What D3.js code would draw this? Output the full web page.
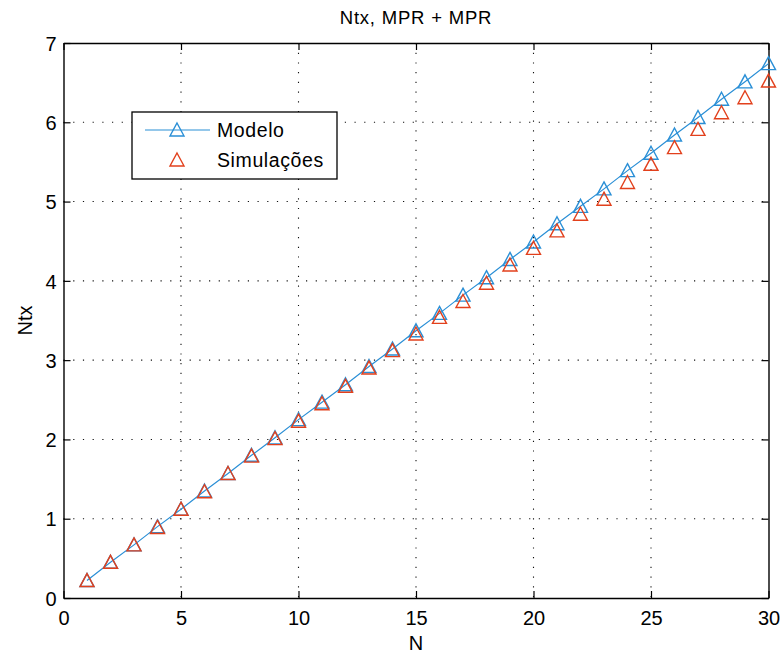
<!DOCTYPE html>
<html>
<head>
<meta charset="utf-8">
<script src="https://cdn.jsdelivr.net/npm/d3@7"></script>
<style>
  body { margin: 0; background: #fff; }
  text { font-family: "Liberation Sans", Arial, sans-serif; fill: #000; }
</style>
</head>
<body>
<div id="chart"></div>
<script>
// data
var nValues = [1,2,3,4,5,6,7,8,9,10,11,12,13,14,15,16,17,18,19,20,21,22,23,24,25,26,27,28,29,30];
var modelo = [0.22,0.45,0.67,0.90,1.12,1.35,1.57,1.80,2.02,2.25,2.47,2.69,2.92,3.14,3.37,3.59,3.82,4.04,4.27,4.49,4.72,4.94,5.16,5.39,5.61,5.84,6.06,6.29,6.51,6.74];
var simulacoes = [0.22,0.45,0.67,0.89,1.12,1.34,1.57,1.79,2.01,2.23,2.45,2.67,2.90,3.12,3.33,3.54,3.74,3.97,4.20,4.41,4.63,4.84,5.03,5.24,5.47,5.68,5.91,6.12,6.31,6.52];
var xTicks = [0,5,10,15,20,25,30];
var yTicks = [0,1,2,3,4,5,6,7];
var legendLabels = ["Modelo", "Simulações"];

var svgWidth = 784;
var svgHeight = 655;
var margin = { top: 43, right: 15.5, bottom: 57, left: 63.5 };
var chartWidth = svgWidth - margin.left - margin.right;
var chartHeight = svgHeight - margin.top - margin.bottom;

var blue = "#2a8fd6";
var red = "#e2401c";

var svg = d3.select("#chart")
  .append("svg")
  .attr("width", svgWidth)
  .attr("height", svgHeight);

var chartGroup = svg.append("g")
  .attr("transform", `translate(${margin.left}, ${margin.top})`);

var x = d3.scaleLinear().domain([0, 30]).range([0, chartWidth]);
var y = d3.scaleLinear().domain([0, 7]).range([chartHeight, 0]);

// dotted grid
var grid = chartGroup.append("g").attr("class", "grid");
grid.selectAll("line.gx")
  .data(xTicks.slice(1, -1))
  .enter()
  .append("line")
  .attr("class", "gx")
  .attr("x1", d => x(d)).attr("x2", d => x(d))
  .attr("y1", 0).attr("y2", chartHeight);
grid.selectAll("line.gy")
  .data(yTicks.slice(1, -1))
  .enter()
  .append("line")
  .attr("class", "gy")
  .attr("y1", d => y(d)).attr("y2", d => y(d))
  .attr("x1", 0).attr("x2", chartWidth);
grid.selectAll("line")
  .attr("stroke", "#111")
  .attr("stroke-width", 1.1)
  .attr("stroke-dasharray", "1.2,8.5");

// axes with inward ticks
var bottomAxis = d3.axisBottom(x).tickValues(xTicks).tickSizeInner(-7).tickSizeOuter(0).tickFormat(d3.format("d"));
var leftAxis = d3.axisLeft(y).tickValues(yTicks).tickSizeInner(-7).tickSizeOuter(0).tickFormat(d3.format("d"));
var topAxis = d3.axisTop(x).tickValues(xTicks).tickSizeInner(-7).tickSizeOuter(0).tickFormat("");
var rightAxis = d3.axisRight(y).tickValues(yTicks).tickSizeInner(-7).tickSizeOuter(0).tickFormat("");

var gb = chartGroup.append("g").attr("transform", `translate(0, ${chartHeight})`).call(bottomAxis);
var gl = chartGroup.append("g").call(leftAxis);
var gt = chartGroup.append("g").call(topAxis);
var gr = chartGroup.append("g").attr("transform", `translate(${chartWidth}, 0)`).call(rightAxis);

[gb, gl, gt, gr].forEach(function(g) {
  g.selectAll("path.domain").attr("stroke", "#000").attr("stroke-width", 1.4);
  g.selectAll(".tick line").attr("stroke", "#000").attr("stroke-width", 1.2);
  g.selectAll(".tick text")
    .attr("font-family", "Liberation Sans, Arial, sans-serif")
    .attr("font-size", 20)
    .attr("fill", "#000");
});
gb.selectAll(".tick text").attr("dy", "0.71em").attr("y", 13);
gl.selectAll(".tick text").attr("x", -7).attr("dy", "0.36em");

// model line
var line = d3.line()
  .x((d, i) => x(nValues[i]))
  .y(d => y(d));

chartGroup.append("path")
  .datum(modelo)
  .attr("d", line)
  .attr("fill", "none")
  .attr("stroke", blue)
  .attr("stroke-width", 1.2);

var tri = "M0,-7L7,6L-7,6Z";

// model markers first, simulations drawn on top
chartGroup.selectAll("path.mod")
  .data(modelo)
  .enter()
  .append("path")
  .attr("class", "mod")
  .attr("d", tri)
  .attr("transform", (d, i) => `translate(${x(nValues[i])}, ${y(d)})`)
  .attr("fill", "none")
  .attr("stroke", blue)
  .attr("stroke-width", 1.4);

chartGroup.selectAll("path.sim")
  .data(simulacoes)
  .enter()
  .append("path")
  .attr("class", "sim")
  .attr("d", tri)
  .attr("transform", (d, i) => `translate(${x(nValues[i])}, ${y(d)})`)
  .attr("fill", "none")
  .attr("stroke", red)
  .attr("stroke-width", 1.4);

// legend
var legend = svg.append("g").attr("transform", "translate(132, 112)");
legend.append("rect")
  .attr("width", 205).attr("height", 67)
  .attr("fill", "#fff").attr("stroke", "#000").attr("stroke-width", 1.3);
legend.append("line")
  .attr("x1", 13).attr("x2", 78).attr("y1", 18).attr("y2", 18)
  .attr("stroke", blue).attr("stroke-width", 1.2);
legend.append("path").attr("d", tri)
  .attr("transform", "translate(45, 18)")
  .attr("fill", "none").attr("stroke", blue).attr("stroke-width", 1.4);
legend.append("path").attr("d", tri)
  .attr("transform", "translate(45, 48)")
  .attr("fill", "none").attr("stroke", red).attr("stroke-width", 1.4);
legend.selectAll("text")
  .data(legendLabels)
  .enter()
  .append("text")
  .attr("x", 85)
  .attr("y", (d, i) => 25 + i * 30)
  .attr("font-size", 19.5)
  .attr("letter-spacing", 0.6)
  .text(d => d);

// title and axis labels
svg.append("text")
  .attr("x", margin.left + chartWidth / 2)
  .attr("y", 24)
  .attr("text-anchor", "middle")
  .attr("font-size", 18.5)
  .attr("letter-spacing", 0.8)
  .text("Ntx, MPR + MPR");

svg.append("text")
  .attr("x", margin.left + chartWidth / 2)
  .attr("y", 650)
  .attr("text-anchor", "middle")
  .attr("font-size", 20)
  .text("N");

svg.append("text")
  .attr("transform", `translate(32, ${margin.top + chartHeight / 2}) rotate(-90)`)
  .attr("text-anchor", "middle")
  .attr("font-size", 20)
  .text("Ntx");
</script>
</body>
</html>
